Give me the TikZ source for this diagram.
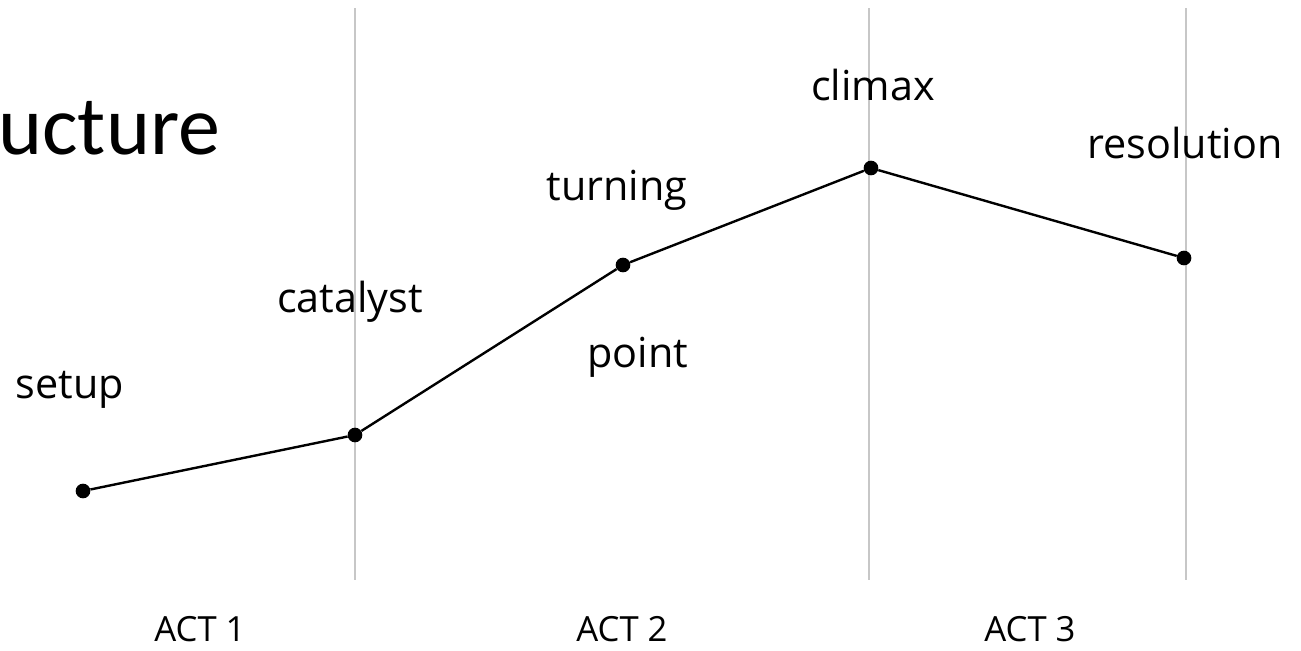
\documentclass[tikz,border=0pt]{standalone}
\usepackage{fontspec}
\setmainfont{Open Sans}
\newfontfamily\titlefont{Carlito}
\begin{document}
\begin{tikzpicture}[x=0.75pt,y=-0.75pt,
  dot/.style={circle,fill=black,inner sep=0pt,minimum size=11pt},
  lbl/.style={font=\fontsize{31}{36}\selectfont,inner sep=0pt},
  act/.style={font=\fontsize{26}{30}\selectfont,inner sep=0pt},
  divider/.style={draw=black!22,line width=1.5pt}]
\useasboundingbox (0,0) rectangle (1301,650);

\node[anchor=west,inner sep=0pt,font=\titlefont\fontsize{63}{70}\selectfont] (title) at (-2,128) {ucture};

% act dividers
\coordinate (d1t) at (355,8);
\coordinate (d1b) at (355,580);
\coordinate (d2t) at (869,8);
\coordinate (d2b) at (869,580);
\coordinate (d3t) at (1186,8);
\coordinate (d3b) at (1186,580);
\draw[divider] (d1t) -- (d1b);
\draw[divider] (d2t) -- (d2b);
\draw[divider] (d3t) -- (d3b);

% story points
\node[dot] (setup) at (83,491) {};
\node[dot] (catalyst) at (355,435) {};
\node[dot] (turning) at (623,265) {};
\node[dot] (climax) at (871,168) {};
\node[dot] (resolution) at (1184,258) {};

\draw[line width=1.8pt] (setup) -- (catalyst) -- (turning) -- (climax) -- (resolution);

\node[lbl] (setuplbl) at (70,390) {setup};
\node[lbl] (catalystlbl) at (350,302) {catalyst};
\node[lbl] (turninglbl) at (617,190) {turning};
\node[lbl] (pointlbl) at (638,357) {point};
\node[lbl] (climaxlbl) at (873,85) {climax};
\node[lbl] (resolutionlbl) at (1185,143) {resolution};

\node[act] (act1) at (200,629) {ACT 1};
\node[act] (act2) at (622,629) {ACT 2};
\node[act] (act3) at (1030,629) {ACT 3};

\end{tikzpicture}
\end{document}
